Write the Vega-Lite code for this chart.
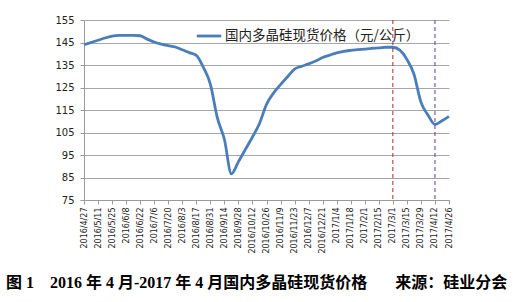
{
  "$schema": "https://vega.github.io/schema/vega-lite/v6.json",
  "width": 365,
  "height": 180,
  "autosize": {"type": "none"},
  "padding": {"left": 84, "top": 20, "right": 69, "bottom": 102},
  "background": "white",
  "config": {
    "view": {"stroke": null},
    "font": "DejaVu Sans"
  },
  "title": {
    "text": "图 1\u00a0\u00a0\u00a0 2016 年 4 月-2017 年 4 月国内多晶硅现货价格\u00a0\u00a0\u00a0\u00a0\u00a0\u00a0 来源：硅业分会",
    "orient": "bottom",
    "anchor": "start",
    "frame": "group",
    "dx": -78,
    "offset": 22,
    "font": "Liberation Serif, Noto Sans CJK SC",
    "fontSize": 16,
    "fontWeight": "bold",
    "color": "#000000"
  },
  "encoding": {
    "x": {
      "field": "date",
      "type": "temporal",
      "scale": {"type": "utc", "domain": [{"year": 2016, "month": 4, "date": 27, "utc": true}, {"year": 2017, "month": 4, "date": 26, "utc": true}]},
      "axis": {
        "title": null,
        "grid": false,
        "labelAngle": -90,
        "labelFontSize": 8,
        "labelColor": "#222222",
        "labelPadding": 3,
        "labelFont": "DejaVu Sans",
        "domainColor": "#9a9a9a",
        "tickColor": "#9a9a9a",
        "tickSize": 4,
        "labelOverlap": false,
        "labelExpr": "utcFormat(datum.value, '%Y/%-m/%-d')",
        "values": [
          {"year": 2016, "month": 4, "date": 27, "utc": true},
          {"year": 2016, "month": 5, "date": 11, "utc": true},
          {"year": 2016, "month": 5, "date": 25, "utc": true},
          {"year": 2016, "month": 6, "date": 8, "utc": true},
          {"year": 2016, "month": 6, "date": 22, "utc": true},
          {"year": 2016, "month": 7, "date": 6, "utc": true},
          {"year": 2016, "month": 7, "date": 20, "utc": true},
          {"year": 2016, "month": 8, "date": 3, "utc": true},
          {"year": 2016, "month": 8, "date": 17, "utc": true},
          {"year": 2016, "month": 8, "date": 31, "utc": true},
          {"year": 2016, "month": 9, "date": 14, "utc": true},
          {"year": 2016, "month": 9, "date": 28, "utc": true},
          {"year": 2016, "month": 10, "date": 12, "utc": true},
          {"year": 2016, "month": 10, "date": 26, "utc": true},
          {"year": 2016, "month": 11, "date": 9, "utc": true},
          {"year": 2016, "month": 11, "date": 23, "utc": true},
          {"year": 2016, "month": 12, "date": 7, "utc": true},
          {"year": 2016, "month": 12, "date": 21, "utc": true},
          {"year": 2017, "month": 1, "date": 4, "utc": true},
          {"year": 2017, "month": 1, "date": 18, "utc": true},
          {"year": 2017, "month": 2, "date": 1, "utc": true},
          {"year": 2017, "month": 2, "date": 15, "utc": true},
          {"year": 2017, "month": 3, "date": 1, "utc": true},
          {"year": 2017, "month": 3, "date": 15, "utc": true},
          {"year": 2017, "month": 3, "date": 29, "utc": true},
          {"year": 2017, "month": 4, "date": 12, "utc": true},
          {"year": 2017, "month": 4, "date": 26, "utc": true}
        ]
      }
    }
  },
  "layer": [
    {
      "data": {
        "values": [
          {"date": "2016-04-27", "price": 144, "series": "国内多晶硅现货价格（元/公斤）"},
          {"date": "2016-05-04", "price": 145, "series": "国内多晶硅现货价格（元/公斤）"},
          {"date": "2016-05-11", "price": 146, "series": "国内多晶硅现货价格（元/公斤）"},
          {"date": "2016-05-18", "price": 147, "series": "国内多晶硅现货价格（元/公斤）"},
          {"date": "2016-05-25", "price": 147.8, "series": "国内多晶硅现货价格（元/公斤）"},
          {"date": "2016-06-01", "price": 148.2, "series": "国内多晶硅现货价格（元/公斤）"},
          {"date": "2016-06-08", "price": 148.2, "series": "国内多晶硅现货价格（元/公斤）"},
          {"date": "2016-06-15", "price": 148.2, "series": "国内多晶硅现货价格（元/公斤）"},
          {"date": "2016-06-22", "price": 148, "series": "国内多晶硅现货价格（元/公斤）"},
          {"date": "2016-06-29", "price": 146.5, "series": "国内多晶硅现货价格（元/公斤）"},
          {"date": "2016-07-06", "price": 145.2, "series": "国内多晶硅现货价格（元/公斤）"},
          {"date": "2016-07-13", "price": 144.3, "series": "国内多晶硅现货价格（元/公斤）"},
          {"date": "2016-07-20", "price": 143.6, "series": "国内多晶硅现货价格（元/公斤）"},
          {"date": "2016-07-27", "price": 143, "series": "国内多晶硅现货价格（元/公斤）"},
          {"date": "2016-08-03", "price": 141.8, "series": "国内多晶硅现货价格（元/公斤）"},
          {"date": "2016-08-10", "price": 140.5, "series": "国内多晶硅现货价格（元/公斤）"},
          {"date": "2016-08-17", "price": 139.3, "series": "国内多晶硅现货价格（元/公斤）"},
          {"date": "2016-08-24", "price": 134, "series": "国内多晶硅现货价格（元/公斤）"},
          {"date": "2016-08-31", "price": 126.5, "series": "国内多晶硅现货价格（元/公斤）"},
          {"date": "2016-09-07", "price": 111.5, "series": "国内多晶硅现货价格（元/公斤）"},
          {"date": "2016-09-14", "price": 102, "series": "国内多晶硅现货价格（元/公斤）"},
          {"date": "2016-09-21", "price": 86.6, "series": "国内多晶硅现货价格（元/公斤）"},
          {"date": "2016-09-28", "price": 92, "series": "国内多晶硅现货价格（元/公斤）"},
          {"date": "2016-10-05", "price": 97.5, "series": "国内多晶硅现货价格（元/公斤）"},
          {"date": "2016-10-12", "price": 103, "series": "国内多晶硅现货价格（元/公斤）"},
          {"date": "2016-10-19", "price": 109, "series": "国内多晶硅现货价格（元/公斤）"},
          {"date": "2016-10-26", "price": 117.5, "series": "国内多晶硅现货价格（元/公斤）"},
          {"date": "2016-11-02", "price": 122.5, "series": "国内多晶硅现货价格（元/公斤）"},
          {"date": "2016-11-09", "price": 126.3, "series": "国内多晶硅现货价格（元/公斤）"},
          {"date": "2016-11-16", "price": 129.8, "series": "国内多晶硅现货价格（元/公斤）"},
          {"date": "2016-11-23", "price": 133.2, "series": "国内多晶硅现货价格（元/公斤）"},
          {"date": "2016-11-30", "price": 134.4, "series": "国内多晶硅现货价格（元/公斤）"},
          {"date": "2016-12-07", "price": 135.5, "series": "国内多晶硅现货价格（元/公斤）"},
          {"date": "2016-12-14", "price": 136.8, "series": "国内多晶硅现货价格（元/公斤）"},
          {"date": "2016-12-21", "price": 138.3, "series": "国内多晶硅现货价格（元/公斤）"},
          {"date": "2016-12-28", "price": 139.4, "series": "国内多晶硅现货价格（元/公斤）"},
          {"date": "2017-01-04", "price": 140.4, "series": "国内多晶硅现货价格（元/公斤）"},
          {"date": "2017-01-11", "price": 141.1, "series": "国内多晶硅现货价格（元/公斤）"},
          {"date": "2017-01-18", "price": 141.5, "series": "国内多晶硅现货价格（元/公斤）"},
          {"date": "2017-01-25", "price": 141.8, "series": "国内多晶硅现货价格（元/公斤）"},
          {"date": "2017-02-01", "price": 142.1, "series": "国内多晶硅现货价格（元/公斤）"},
          {"date": "2017-02-08", "price": 142.4, "series": "国内多晶硅现货价格（元/公斤）"},
          {"date": "2017-02-15", "price": 142.6, "series": "国内多晶硅现货价格（元/公斤）"},
          {"date": "2017-02-22", "price": 142.9, "series": "国内多晶硅现货价格（元/公斤）"},
          {"date": "2017-03-01", "price": 142.9, "series": "国内多晶硅现货价格（元/公斤）"},
          {"date": "2017-03-08", "price": 141.6, "series": "国内多晶硅现货价格（元/公斤）"},
          {"date": "2017-03-15", "price": 137.5, "series": "国内多晶硅现货价格（元/公斤）"},
          {"date": "2017-03-22", "price": 131, "series": "国内多晶硅现货价格（元/公斤）"},
          {"date": "2017-03-29", "price": 118.5, "series": "国内多晶硅现货价格（元/公斤）"},
          {"date": "2017-04-05", "price": 112.8, "series": "国内多晶硅现货价格（元/公斤）"},
          {"date": "2017-04-12", "price": 108.6, "series": "国内多晶硅现货价格（元/公斤）"},
          {"date": "2017-04-19", "price": 110.2, "series": "国内多晶硅现货价格（元/公斤）"},
          {"date": "2017-04-26", "price": 112.2, "series": "国内多晶硅现货价格（元/公斤）"}
        ]
      },
      "mark": {"type": "line", "strokeWidth": 2.8, "interpolate": "monotone"},
      "encoding": {
        "y": {
          "field": "price",
          "type": "quantitative",
          "scale": {"domain": [75, 155], "nice": false, "zero": false},
          "axis": {
            "title": null,
            "values": [75, 85, 95, 105, 115, 125, 135, 145, 155],
            "grid": true,
            "gridColor": "#a6a6a6",
            "gridWidth": 1,
            "domainColor": "#9a9a9a",
            "tickColor": "#9a9a9a",
            "tickSize": 4,
            "labelFontSize": 10,
            "labelColor": "#222222",
            "labelPadding": 6,
            "labelFont": "DejaVu Sans"
          }
        },
        "color": {
          "field": "series",
          "type": "nominal",
          "scale": {"range": ["#4a7ebb"]},
          "legend": {
            "title": null,
            "orient": "none",
            "legendX": 111,
            "legendY": 2,
            "symbolType": "stroke",
            "symbolSize": 600,
            "symbolStrokeWidth": 2.8,
            "labelFontSize": 13.5,
            "labelFont": "Noto Sans CJK SC",
            "labelColor": "#222222",
            "labelOffset": 2,
            "labelLimit": 300
          }
        }
      }
    },
    {
      "data": {
        "values": [
          {"date": "2017-03-01", "kind": "a"},
          {"date": "2017-04-12", "kind": "b"}
        ]
      },
      "mark": {"type": "rule", "strokeDash": [4, 3], "strokeWidth": 1},
      "encoding": {
        "stroke": {
          "field": "kind",
          "type": "nominal",
          "scale": {"domain": ["a", "b"], "range": ["#b02a2a", "#7030a0"]},
          "legend": null
        }
      }
    }
  ]
}
